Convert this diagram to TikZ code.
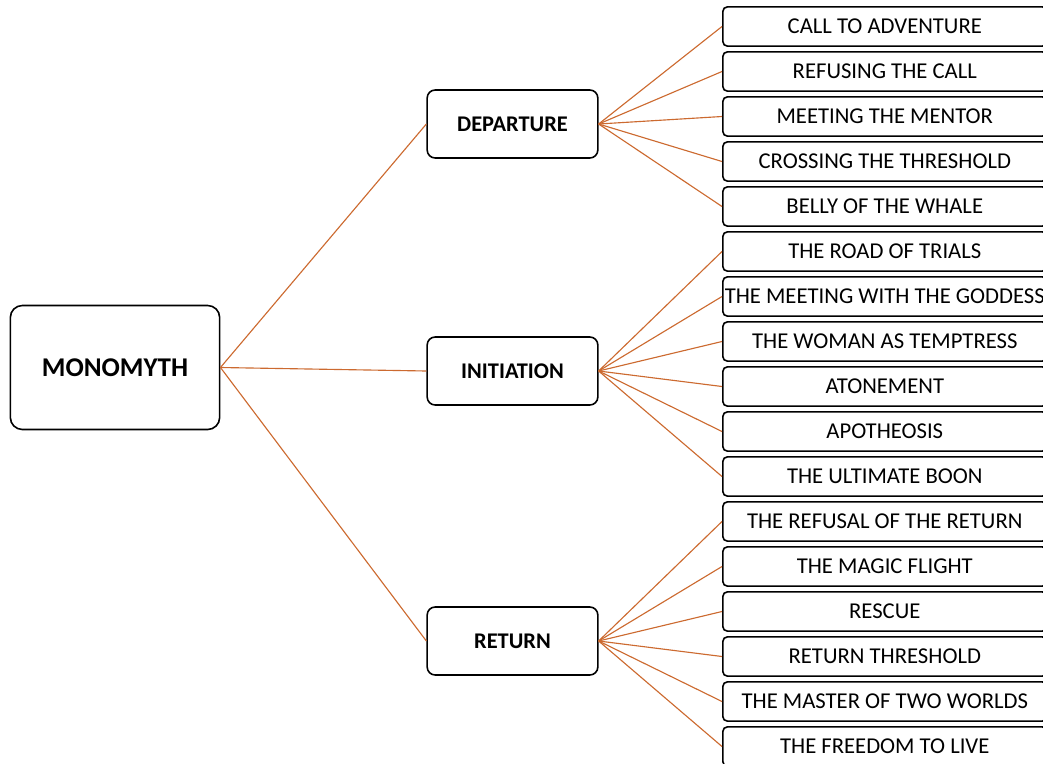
\documentclass[tikz,border=0pt]{standalone}
\usepackage{fontspec}
\setmainfont{Carlito}
\begin{document}
\begin{tikzpicture}[x=0.75pt,y=-0.75pt,
  box/.style={draw=black, line width=1.2pt, fill=white, inner sep=0pt, align=center},
  rootbox/.style={box, rounded corners=9pt, minimum width=157pt, minimum height=93pt,
    font=\fontsize{20.3}{23}\selectfont\bfseries},
  catbox/.style={box, rounded corners=6pt, minimum width=128pt, minimum height=51pt,
    font=\fontsize{16.8}{19}\selectfont\bfseries},
  leafbox/.style={box, rounded corners=3.5pt, minimum width=243pt, minimum height=29.5pt,
    anchor=west, font=\fontsize{17}{20}\selectfont},
  link/.style={draw={rgb,255:red,204;green,106;blue,48}, line width=0.85pt}]
\useasboundingbox (0,0) rectangle (1043,764);

% root and the three stages
\node[rootbox] (root) at (115,367.5) {MONOMYTH};
\node[catbox] (dep) at (512.5,124) {DEPARTURE};
\node[catbox] (ini) at (512.5,371) {INITIATION};
\node[catbox] (ret) at (512.5,641) {RETURN};

% the seventeen steps
\node[leafbox] (l1)  at (722, 26.5) {CALL TO ADVENTURE};
\node[leafbox] (l2)  at (722, 71.5) {REFUSING THE CALL};
\node[leafbox] (l3)  at (722,116.5) {MEETING THE MENTOR};
\node[leafbox] (l4)  at (722,161.5) {CROSSING THE THRESHOLD};
\node[leafbox] (l5)  at (722,206.5) {BELLY OF THE WHALE};
\node[leafbox] (l6)  at (722,251.5) {THE ROAD OF TRIALS};
\node[leafbox] (l7)  at (722,296.5) {THE MEETING WITH THE GODDESS};
\node[leafbox] (l8)  at (722,341.5) {THE WOMAN AS TEMPTRESS};
\node[leafbox] (l9)  at (722,386.5) {ATONEMENT};
\node[leafbox] (l10) at (722,431.5) {APOTHEOSIS};
\node[leafbox] (l11) at (722,476.5) {THE ULTIMATE BOON};
\node[leafbox] (l12) at (722,521.5) {THE REFUSAL OF THE RETURN};
\node[leafbox] (l13) at (722,566.5) {THE MAGIC FLIGHT};
\node[leafbox] (l14) at (722,611.5) {RESCUE};
\node[leafbox] (l15) at (722,656.5) {RETURN THRESHOLD};
\node[leafbox] (l16) at (722,701.5) {THE MASTER OF TWO WORLDS};
\node[leafbox] (l17) at (722,746.5) {THE FREEDOM TO LIVE};

% connectors
\foreach \c in {dep,ini,ret} \draw[link] (root.east) -- (\c.west);
\foreach \l in {l1,l2,l3,l4,l5} \draw[link] (dep.east) -- (\l.west);
\foreach \l in {l6,l7,l8,l9,l10,l11} \draw[link] (ini.east) -- (\l.west);
\foreach \l in {l12,l13,l14,l15,l16,l17} \draw[link] (ret.east) -- (\l.west);
\end{tikzpicture}
\end{document}
